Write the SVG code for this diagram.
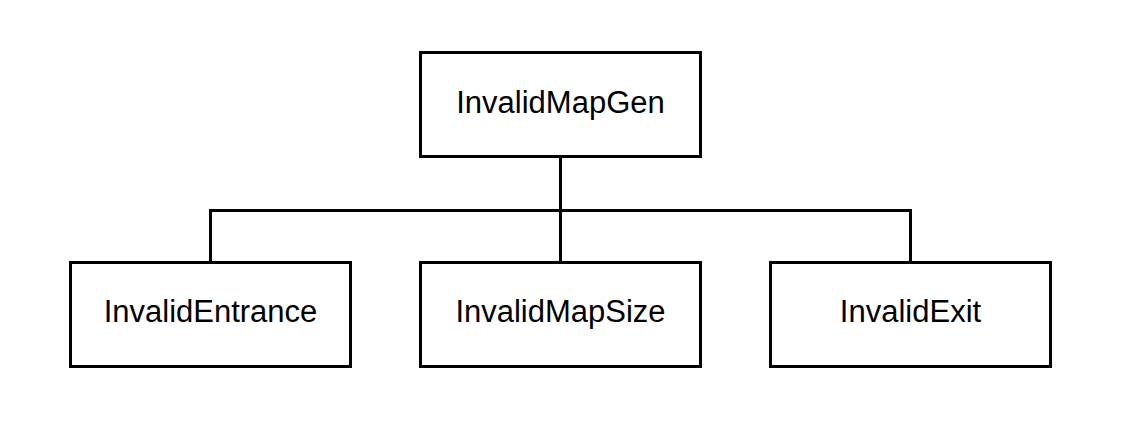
<svg xmlns="http://www.w3.org/2000/svg" width="1129" height="444" viewBox="0 0 1129 444">
<style>
.box{fill:#fff;stroke:#000;stroke-width:3}
.lbl{font-family:"Liberation Sans",Arial,sans-serif;font-size:31px;fill:#000;text-anchor:middle}
.conn{fill:none;stroke:#000;stroke-width:3}
</style>
<rect width="1129" height="444" fill="#fff"/>
<g id="connectors">
<path class="conn" d="M560.5 157V262M210.5 262V210.5H910.5V262"/>
</g>
<g id="InvalidMapGen">
<rect class="box" x="420.5" y="52.5" width="280" height="104"/>
<text class="lbl" x="560.5" y="113">InvalidMapGen</text>
</g>
<g id="InvalidEntrance">
<rect class="box" x="70.5" y="262.5" width="280" height="104"/>
<text class="lbl" x="210.5" y="322">InvalidEntrance</text>
</g>
<g id="InvalidMapSize">
<rect class="box" x="420.5" y="262.5" width="280" height="104"/>
<text class="lbl" x="560.5" y="322">InvalidMapSize</text>
</g>
<g id="InvalidExit">
<rect class="box" x="770.5" y="262.5" width="280" height="104"/>
<text class="lbl" x="910.5" y="322">InvalidExit</text>
</g>
</svg>
